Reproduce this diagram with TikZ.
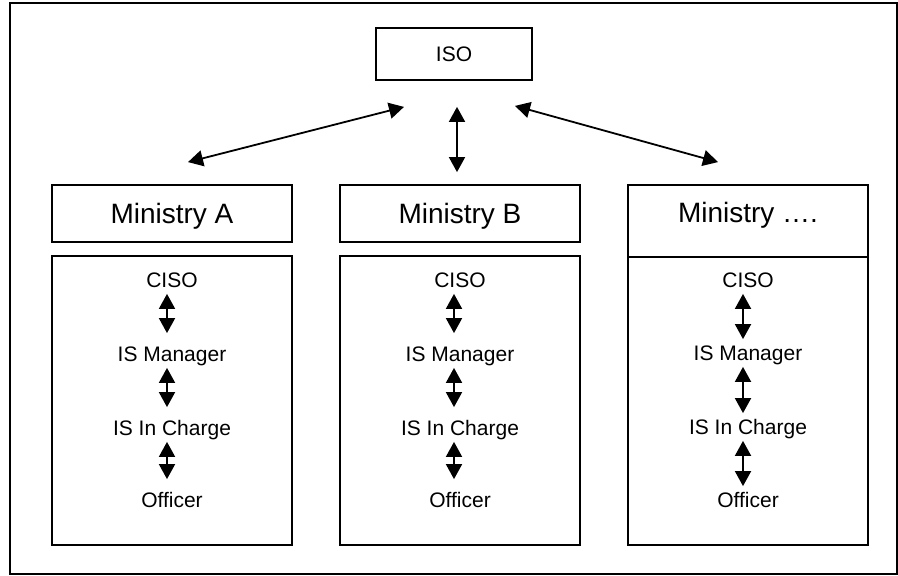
\documentclass[tikz,border=0pt]{standalone}
\usepackage{fontspec}
\setmainfont{Liberation Sans}
\usetikzlibrary{arrows.meta}

\newcommand{\bigfont}{\fontsize{14pt}{16pt}\selectfont}
\newcommand{\smallfont}{\fontsize{10.5pt}{12pt}\selectfont}

\begin{document}
\begin{tikzpicture}[x=0.5pt, y=-0.5pt,
        box/.style={draw, line width=0.9pt, inner sep=0pt},
        ministry/.style={box, minimum width=120pt, minimum height=28.5pt, font=\bigfont, text depth=0pt},
        unit/.style={box, minimum width=120pt, minimum height=144.5pt},
        role/.style={font=\smallfont, inner sep=3pt, text height=7.5pt, text depth=0pt},
        link/.style={{Triangle[length=7.5pt, width=8pt]}-{Triangle[length=7.5pt, width=8pt]}, line width=0.9pt}]
                \useasboundingbox (0,0) rectangle (898,576);
                \draw[line width=0.9pt] (10,3) rectangle (897,574);

                \node[box, minimum width=78pt, minimum height=26pt, font=\smallfont] (iso) at (454,54) {ISO};

                \node[ministry] (mina) at (172,213.5) {Ministry A};
                \node[ministry] (minb) at (460,213.5) {Ministry B};
                \node[box, minimum width=120pt, minimum height=36pt] (minc) at (748,221) {};
                \node[font=\bigfont, text depth=0pt, inner sep=0pt] (minctext) at (748,212.5) {Ministry ….};

                \draw[link] ([shift={(-50,26)}]iso.south) -- ([shift={(16,-22)}]mina.north);
                \draw[link] ([shift={(3,26)}]iso.south) -- ([shift={(-3,-12)}]minb.north);
                \draw[link] ([shift={(61,25)}]iso.south) -- ([shift={(-30,-22)}]minc.north);

                \node[unit] (unita) at (172,400.5) {};
                \node[role] (cisoa) at (172,280) {CISO};
                \node[role] (mgra) at (172,354) {IS Manager};
                \node[role] (chga) at (172,428) {IS In Charge};
                \node[role] (offa) at (172,500) {Officer};
                \draw[link, shorten >=3.5pt] ([xshift=-2.5pt]cisoa.south) -- ([xshift=-2.5pt]mgra.north);
                \draw[link, shorten >=3.5pt] ([xshift=-2.5pt]mgra.south) -- ([xshift=-2.5pt]chga.north);
                \draw[link, shorten >=3.5pt] ([xshift=-2.5pt]chga.south) -- ([xshift=-2.5pt]offa.north);

                \node[unit] (unitb) at (460,400.5) {};
                \node[role] (cisob) at (460,280) {CISO};
                \node[role] (mgrb) at (460,354) {IS Manager};
                \node[role] (chgb) at (460,428) {IS In Charge};
                \node[role] (offb) at (460,500) {Officer};
                \draw[link, shorten >=3.5pt] ([xshift=-3pt]cisob.south) -- ([xshift=-3pt]mgrb.north);
                \draw[link, shorten >=3.5pt] ([xshift=-3pt]mgrb.south) -- ([xshift=-3pt]chgb.north);
                \draw[link, shorten >=3.5pt] ([xshift=-3pt]chgb.south) -- ([xshift=-3pt]offb.north);

                \node[unit, minimum height=144pt] (unitc) at (748,401) {};
                \node[role] (cisoc) at (748,280) {CISO};
                \node[role] (mgrc) at (748,353) {IS Manager};
                \node[role] (chgc) at (748,427) {IS In Charge};
                \node[role] (offc) at (748,500) {Officer};
                \draw[link] ([xshift=-2.5pt]cisoc.south) -- ([xshift=-2.5pt]mgrc.north);
                \draw[link] ([xshift=-2.5pt]mgrc.south) -- ([xshift=-2.5pt]chgc.north);
                \draw[link] ([xshift=-2.5pt]chgc.south) -- ([xshift=-2.5pt]offc.north);
            \end{tikzpicture}
\end{document}
